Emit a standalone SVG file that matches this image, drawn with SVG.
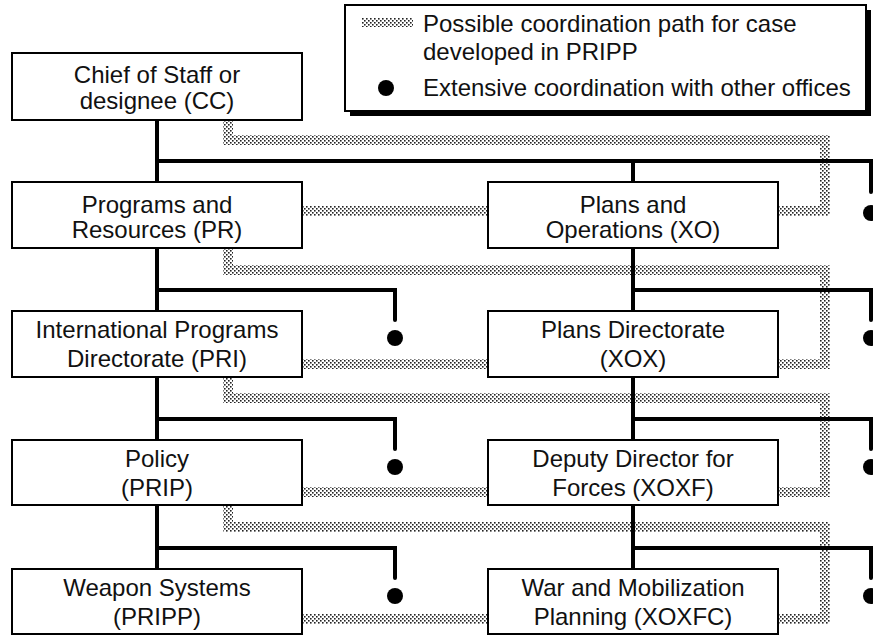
<svg xmlns="http://www.w3.org/2000/svg" width="873" height="636" viewBox="0 0 873 636">
<defs>
<pattern id="hatch" patternUnits="userSpaceOnUse" width="4" height="4">
<rect width="4" height="4" fill="#fff"/>
<rect x="0" y="0" width="1.6" height="1.6" fill="#222"/>
<rect x="2" y="2" width="1.6" height="1.6" fill="#222"/>
</pattern>
</defs>
<style>
.box{fill:#fff;stroke:#000;stroke-width:2}
.t{font-family:"Liberation Sans",Arial,sans-serif;font-size:24px;fill:#111;text-anchor:middle}
.lt{font-family:"Liberation Sans",Arial,sans-serif;font-size:24px;fill:#111}
.band{fill:none;stroke:url(#hatch);stroke-width:10;stroke-linejoin:miter}
.ln{fill:none;stroke:#000;stroke-width:4;stroke-linejoin:miter;stroke-linecap:butt}
.end{fill:none;stroke:#000;stroke-width:4;stroke-linejoin:miter;stroke-linecap:round}
.dot{fill:#000}
</style>
<rect width="873" height="636" fill="#fff"/>

<g id="legend">
<rect x="350" y="10" width="521" height="106" fill="#000"/>
<rect x="345" y="5" width="521" height="106" class="box"/>
<rect x="362" y="18" width="51" height="9" fill="url(#hatch)"/>
<text class="lt" x="423" y="32">Possible coordination path for case</text>
<text class="lt" x="423" y="60">developed in PRIPP</text>
<circle class="dot" cx="386" cy="88" r="8"/>
<text class="lt" x="423" y="96">Extensive coordination with other offices</text>
</g>

<g id="connectors">
<g id="coordination-path">
<path class="band" d="M302,211 H488"/>
<path class="band" d="M778,211 H825 V140 H228 V120"/>
<path class="band" d="M302,364 H488"/>
<path class="band" d="M778,364 H825 V270 H228 V248"/>
<path class="band" d="M302,492 H488"/>
<path class="band" d="M778,492 H825 V398 H228 V377"/>
<path class="band" d="M302,619 H488"/>
<path class="band" d="M778,619 H825 V527 H228 V505"/>
</g>
<g id="hierarchy">
<path class="ln" d="M157,120 V182"/>
<path class="end" d="M157,161 H871 V192"/>
<path class="ln" d="M633,161 V182"/>
<path class="ln" d="M157,248 V311"/>
<path class="end" d="M157,290 H395 V320"/>
<path class="ln" d="M633,248 V311"/>
<path class="end" d="M633,290 H871 V320"/>
<path class="ln" d="M157,377 V440"/>
<path class="end" d="M157,419 H395 V449"/>
<path class="ln" d="M633,377 V440"/>
<path class="end" d="M633,419 H871 V449"/>
<path class="ln" d="M157,505 V569"/>
<path class="end" d="M157,548 H395 V578"/>
<path class="ln" d="M633,505 V569"/>
<path class="end" d="M633,548 H871 V578"/>
</g>
<g id="dots">
<circle class="dot" cx="871" cy="213" r="8"/>
<circle class="dot" cx="395" cy="338" r="8"/>
<circle class="dot" cx="871" cy="338" r="8"/>
<circle class="dot" cx="395" cy="467" r="8"/>
<circle class="dot" cx="871" cy="467" r="8"/>
<circle class="dot" cx="395" cy="596" r="8"/>
<circle class="dot" cx="871" cy="596" r="8"/>
</g>
</g>

<g id="CC">
<rect class="box" x="12" y="53" width="290" height="67"/>
<text class="t" x="157" y="83">Chief of Staff or</text>
<text class="t" x="157" y="109">designee (CC)</text>
</g>
<g id="PR">
<rect class="box" x="12" y="182" width="290" height="66"/>
<text class="t" x="157" y="213">Programs and</text>
<text class="t" x="157" y="238">Resources (PR)</text>
</g>
<g id="XO">
<rect class="box" x="488" y="182" width="290" height="66"/>
<text class="t" x="633" y="213">Plans and</text>
<text class="t" x="633" y="238">Operations (XO)</text>
</g>
<g id="PRI">
<rect class="box" x="12" y="311" width="290" height="66"/>
<text class="t" x="157" y="338">International Programs</text>
<text class="t" x="157" y="367">Directorate (PRI)</text>
</g>
<g id="XOX">
<rect class="box" x="488" y="311" width="290" height="66"/>
<text class="t" x="633" y="338">Plans Directorate</text>
<text class="t" x="633" y="367">(XOX)</text>
</g>
<g id="PRIP">
<rect class="box" x="12" y="440" width="290" height="65"/>
<text class="t" x="157" y="467">Policy</text>
<text class="t" x="157" y="496">(PRIP)</text>
</g>
<g id="XOXF">
<rect class="box" x="488" y="440" width="290" height="65"/>
<text class="t" x="633" y="467">Deputy Director for</text>
<text class="t" x="633" y="496">Forces (XOXF)</text>
</g>
<g id="PRIPP">
<rect class="box" x="12" y="569" width="290" height="65"/>
<text class="t" x="157" y="596">Weapon Systems</text>
<text class="t" x="157" y="625">(PRIPP)</text>
</g>
<g id="XOXFC">
<rect class="box" x="488" y="569" width="290" height="65"/>
<text class="t" x="633" y="596">War and Mobilization</text>
<text class="t" x="633" y="625">Planning (XOXFC)</text>
</g>
</svg>
